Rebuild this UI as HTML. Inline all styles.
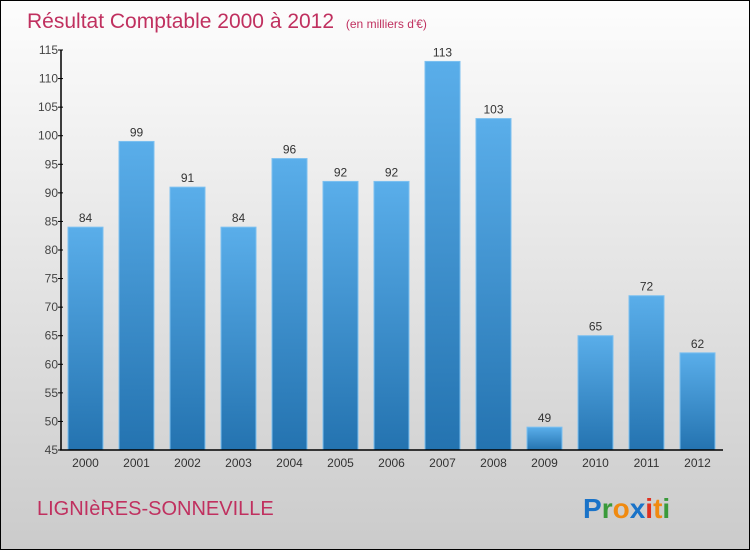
<!DOCTYPE html>
<html><head><meta charset="utf-8"><style>
body{margin:0}
#c{width:748px;height:548px;border:1px solid #000;background:linear-gradient(#fdfdfd,#cbcbcb);position:relative;overflow:hidden;font-family:"Liberation Sans",sans-serif}
</style></head><body>
<div id="c">
<svg width="748" height="548">
<defs><linearGradient id="g" x1="0" y1="0" x2="0" y2="1"><stop offset="0" stop-color="#5aaeea"/><stop offset="1" stop-color="#2473b0"/></linearGradient></defs>
<text x="26" y="27" font-size="21" fill="#c0305f">Résultat Comptable 2000 à 2012 <tspan font-size="12" dx="6">(en milliers d'€)</tspan></text>
<g id="bars"></g><g id="axes"></g>
<text x="36" y="514" font-size="20" fill="#c0305f">LIGNIèRES-SONNEVILLE</text>
<text x="582" y="517" font-size="28" font-weight="bold"><tspan fill="#1a73c8">P</tspan><tspan fill="#3a9a3a">r</tspan><tspan fill="#f08a10">o</tspan><tspan fill="#1a73c8">x</tspan><tspan fill="#e03020">i</tspan><tspan fill="#f08a10">t</tspan><tspan fill="#3a9a3a">i</tspan></text>
</svg></div>
<script>
const categories=["2000","2001","2002","2003","2004","2005","2006","2007","2008","2009","2010","2011","2012"];
const values=[84,99,91,84,96,92,92,113,103,49,65,72,62];
const yTicks=[45,50,55,60,65,70,75,80,85,90,95,100,105,110,115];
const NS="http://www.w3.org/2000/svg";
const x0=59,band=51,yMin=45,yMax=115,yTop=49,yBot=449;
const y=v=>yBot-(v-yMin)/(yMax-yMin)*(yBot-yTop);
function mk(t,a,p){const e=document.createElementNS(NS,t);for(const k in a)e.setAttribute(k,a[k]);p.appendChild(e);return e;}
const B=document.getElementById('bars'),A=document.getElementById('axes');
values.forEach((v,i)=>{const cx=x0+band*(i+0.5);
const r=mk('rect',{x:cx-17.5,y:y(v),width:35,height:yBot-y(v),fill:'url(#g)',stroke:'#7cc0f0','stroke-width':1},B);

const t=mk('text',{x:cx,y:y(v)-5,'text-anchor':'middle','font-size':12,fill:'#333'},B);t.textContent=v;

const c=mk('text',{x:cx,y:466,'text-anchor':'middle','font-size':12,fill:'#333'},A);c.textContent=categories[i];
});
const ya=mk('line',{x1:x0+1,y1:yTop,x2:x0+1,y2:yBot,stroke:'#000','stroke-width':1.5},A);

const xa=mk('line',{x1:x0,y1:yBot,x2:x0+band*categories.length,y2:yBot,stroke:'#000','stroke-width':1.5},A);

yTicks.forEach(v=>{mk('line',{x1:x0-2,y1:y(v),x2:x0+3,y2:y(v),stroke:'#000'},A);
const t=mk('text',{x:x0-2,y:y(v)+4,'text-anchor':'end','font-size':12,fill:'#444'},A);t.textContent=v;
});
</script></body></html>
